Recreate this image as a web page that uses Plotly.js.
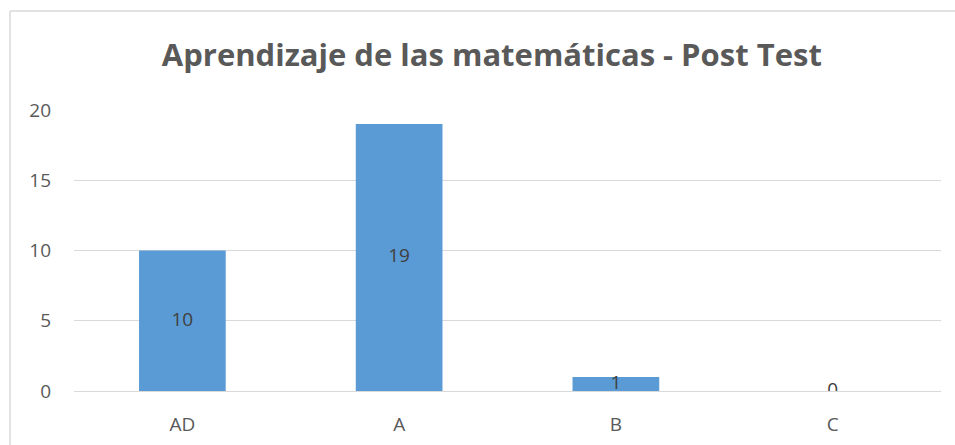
<!DOCTYPE html>
<html>
<head>
<meta charset="utf-8">
<script src="https://cdn.plot.ly/plotly-3.0.1.min.js"></script>
<style>
html,body{margin:0;padding:0;background:#fff;overflow:hidden;}
#chart{width:955px;height:445px;}
</style>
</head>
<body>
<div id="chart"></div>
<script>
const categories = ["AD", "A", "B", "C"];
const values = [10, 19, 1, 0];
const yTicks = [0, 5, 10, 15, 20];

const FONT = "Open Sans, Liberation Sans, sans-serif";

const bars = {
  type: "bar",
  x: categories,
  y: values,
  marker: {color: "#5B9BD5"},
  hoverinfo: "x+y",
  showlegend: false
};
const labels = {
  type: "scatter",
  mode: "text",
  x: categories,
  y: values.map(v => v / 2),
  text: values.map(String),
  textposition: "middle center",
  textfont: {family: FONT, size: 19, color: "#404040"},
  hoverinfo: "skip",
  showlegend: false
};

const layout = {
  width: 955,
  height: 445,
  margin: {l: 74, r: 14, t: 110, b: 54},
  paper_bgcolor: "#ffffff",
  plot_bgcolor: "#ffffff",
  bargap: 0.6,
  title: {
    text: "<b>Aprendizaje de las matemáticas - Post Test</b>",
    font: {family: FONT, size: 31, color: "#595959"},
    x: 0.515, xanchor: "center",
    y: 57, yref: "container", yanchor: "middle"
  },
  xaxis: {
    type: "category",
    tickfont: {family: FONT, size: 19, color: "#595959"},
    showgrid: false,
    showline: false,
    zeroline: false,
    ticks: "",
    ticklabelstandoff: 20
  },
  yaxis: {
    range: [0, 20],
    tickvals: yTicks,
    ticktext: yTicks.map(String),
    tickfont: {family: FONT, size: 19, color: "#595959"},
    showgrid: true,
    gridcolor: "#d9d9d9",
    gridwidth: 1,
    zeroline: true,
    zerolinecolor: "#d9d9d9",
    zerolinewidth: 1,
    showline: false,
    ticks: "",
    ticklabelstandoff: 22,
    fixedrange: true
  },
  shapes: [
    {type: "line", xref: "paper", yref: "paper",
     x0: -64 / 867, x1: 1 + 14 / 867, y0: 1 + 99 / 281, y1: 1 + 99 / 281,
     line: {color: "#d9d9d9", width: 1.5}, layer: "below"},
    {type: "line", xref: "paper", yref: "paper",
     x0: -64 / 867, x1: -64 / 867, y0: -54 / 281, y1: 1 + 99 / 281,
     line: {color: "#d9d9d9", width: 1.5}, layer: "below"}
  ]
};

Plotly.newPlot("chart", [bars, labels], layout, {displayModeBar: false, staticPlot: true});
</script>
</body>
</html>
